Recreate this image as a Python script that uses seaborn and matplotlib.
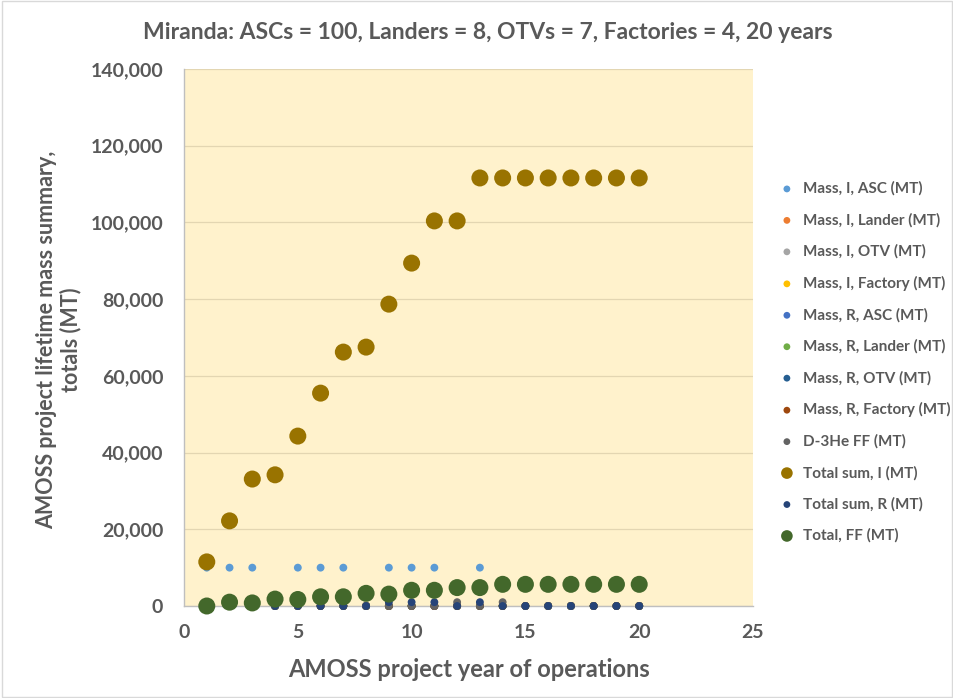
import numpy as np
import pandas as pd
import matplotlib
matplotlib.use("Agg")
import matplotlib.pyplot as plt
import seaborn as sns
from matplotlib.patches import Rectangle
from matplotlib.ticker import FuncFormatter, MultipleLocator

years = list(range(1, 21))

mass_i_asc = [10000, 10000, 10000, 0, 10000, 10000, 10000, 0, 10000, 10000,
              10000, 0, 10000, 0, 0, 0, 0, 0, 0, 0]
mass_i_lander = [0] * 20
mass_i_otv = [0] * 20
mass_i_factory = [0] * 20
mass_r_asc = [0] * 20
mass_r_lander = [0] * 20
mass_r_otv = [0] * 20
mass_r_factory = [0] * 20
d3he_ff = [0, 0, 0, 0, 0, 0, 0, 0, 0, 0, 0, 1000, 0, 1000, 0, 0, 0, 0, 0, 0]
total_sum_i = [11500, 22200, 33100, 34200, 44300, 55500, 66200, 67500, 78700, 89400,
               100400, 100400, 111600, 111600, 111600, 111600, 111600, 111600, 111600, 111600]
total_sum_r = [0, 0, 0, 0, 0, 0, 0, 0, 1000, 1000, 1000, 0, 1000, 0, 0, 0, 0, 0, 0, 0]
total_ff = [0, 1000, 800, 1800, 1700, 2400, 2400, 3300, 3100, 4100,
            4100, 4800, 4800, 5650, 5650, 5650, 5650, 5650, 5650, 5650]

series_names = ["Mass, I, ASC (MT)", "Mass, I, Lander (MT)", "Mass, I, OTV (MT)",
                "Mass, I, Factory (MT)", "Mass, R, ASC (MT)", "Mass, R, Lander (MT)",
                "Mass, R, OTV (MT)", "Mass, R, Factory (MT)", "D-3He FF (MT)",
                "Total sum, I (MT)", "Total sum, R (MT)", "Total, FF (MT)"]
series_values = [mass_i_asc, mass_i_lander, mass_i_otv, mass_i_factory, mass_r_asc,
                 mass_r_lander, mass_r_otv, mass_r_factory, d3he_ff, total_sum_i,
                 total_sum_r, total_ff]
colors = ["#5B9BD5", "#ED7D31", "#A5A5A5", "#FFC000", "#4472C4", "#70AD47",
          "#255E91", "#9E480E", "#636363", "#997300", "#264478", "#43682B"]
big = {"Total sum, I (MT)", "Total, FF (MT)"}

sns.set_style("white")
plt.rcParams["font.family"] = ["Lato", "DejaVu Sans"]
plt.rcParams["font.weight"] = "bold"

fig = plt.figure(figsize=(9.54, 6.98), dpi=100)
ax = fig.add_axes([0.1929, 0.1318, 0.7893 - 0.1929, 0.9011 - 0.1318])
ax.set_facecolor("#FFF2CC")

for name, vals, col in zip(series_names, series_values, colors):
    df = pd.DataFrame({"year": years, "value": vals})
    s = 150 if name in big else 32
    sns.scatterplot(data=df, x="year", y="value", ax=ax, color=col, s=s,
                    edgecolor="none", linewidth=0, label=name, zorder=3, clip_on=False)

ax.set_xlim(0, 25)
ax.set_ylim(0, 140000)
ax.xaxis.set_major_locator(MultipleLocator(5))
ax.yaxis.set_major_locator(MultipleLocator(20000))
ax.yaxis.set_major_formatter(FuncFormatter(lambda v, p: f"{int(v):,}"))
ax.grid(axis="y", color="#E3D6B2", linewidth=0.9)
ax.set_axisbelow(True)
for sp in ["top", "right"]:
    ax.spines[sp].set_visible(False)
for sp in ["left", "bottom"]:
    ax.spines[sp].set_color("#BFBFBF")
    ax.spines[sp].set_linewidth(1.0)
ax.tick_params(axis="y", length=0, labelsize=14, labelcolor="#595959", pad=15)
ax.tick_params(axis="x", length=0, labelsize=14, labelcolor="#595959", pad=13)
for lab in ax.get_xticklabels() + ax.get_yticklabels():
    lab.set_fontweight("bold")

ax.set_xlabel("AMOSS project year of operations", fontsize=17, color="#595959",
              fontweight="bold", labelpad=12)
ax.set_ylabel("AMOSS project lifetime mass summary,\ntotals (MT)", fontsize=15.5,
              color="#595959", fontweight="bold", linespacing=1.1)
ax.yaxis.set_label_coords(-0.181, 0.495)

fig.text(0.511, 0.953, "Miranda: ASCs = 100, Landers = 8, OTVs = 7, Factories = 4, 20 years",
         ha="center", va="center", fontsize=16.5, color="#595959", fontweight="bold")

leg = ax.legend(loc="upper left", bbox_to_anchor=(1.022, 0.802), frameon=False,
                fontsize=11, labelspacing=1.11, handletextpad=0.05, markerscale=1.0,
                borderaxespad=0)
for t in leg.get_texts():
    t.set_color("#595959")
    t.set_fontweight("bold")
for h, name in zip(leg.legend_handles, series_names):
    h.set_sizes([70 if name in big else 24])

fig.patches.append(Rectangle((0.002, 0.002), 0.996, 0.996, transform=fig.transFigure,
                             fill=False, edgecolor="#D9D9D9", linewidth=1))

fig.savefig("out.png", dpi=100)
